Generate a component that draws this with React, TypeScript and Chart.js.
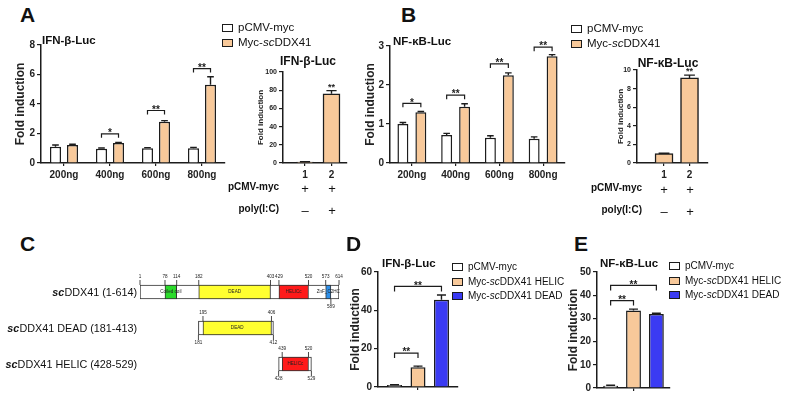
import React, { useEffect, useRef } from 'react';
import { Chart, registerables } from 'chart.js';

Chart.register(...registerables);

const FONT = "'Liberation Sans', Arial, Helvetica, sans-serif";
const INK = '#1c1c1c';
const PEACH = '#F8C99A';
const BLUE = '#3B3BF3';

// ---------- Panel A : IFN-β-Luc, dose response ----------
const doseLabels = ['200ng', '400ng', '600ng', '800ng'];
const pairNames = ['pCMV-myc', 'Myc-scDDX41'];
const ifnCtrl = [1.1, 0.97, 1.0, 1.0];
const ifnCtrlErr = [0.12, 0.05, 0.04, 0.06];
const ifnDdx = [1.22, 1.35, 2.8, 5.3];
const ifnDdxErr = [0.05, 0.04, 0.07, 0.55];
const ifnSigText = ['', '*', '**', '**'];
const ifnSigLevel = [0, 1.98, 3.56, 6.4];

// Panel A inset : poly(I:C)
const polyLabels = ['1', '2'];
const ifnPoly = [1, 76];
const ifnPolyErr = [0.4, 3.5];
const ifnPolySigText = ['', '**'];
const ifnPolySigLevel = [0, 82];

// ---------- Panel B : NF-κB-Luc, dose response ----------
const nfCtrl = [1.0, 0.72, 0.65, 0.62];
const nfCtrlErr = [0.04, 0.04, 0.05, 0.05];
const nfDdx = [1.3, 1.44, 2.25, 2.74];
const nfDdxErr = [0.02, 0.08, 0.06, 0.04];
const nfSigText = ['*', '**', '**', '**'];
const nfSigLevel = [1.53, 1.74, 2.54, 2.97];

// Panel B inset
const nfPoly = [1.0, 9.15];
const nfPolyErr = [0.05, 0.3];
const nfPolySigText = ['', '**'];
const nfPolySigLevel = [0, 9.75];

// table under the insets
const tableNames = ['pCMV-myc', 'poly(I:C)'];
const tableMarks = [['+', '+'], ['–', '+']];

// ---------- Panel C : domain map ----------
const constructNames = ['scDDX41 (1-614)', 'scDDX41 DEAD (181-413)', 'scDDX41 HELIC (428-529)'];
const constructSpans = [[1, 614], [181, 412], [428, 529]];
const coiledCoil = [[78, 114], null, null];
const deadDomain = [[182, 403], [195, 406], null];
const helicDomain = [[429, 520], null, [439, 520]];
const znfDomain = [[573, 589], null, null];
const domainNames = ['Coiled coil', 'DEAD', 'HELICc', 'ZnF_C2HC'];
const topMarks = [[1, 78, 114, 182, 403, 429, 520, 573, 614], [195, 406], [439, 520]];
const bottomMarks = [[589], [181, 412], [428, 529]];

// ---------- Panels D / E : truncation mutants ----------
const mutantNames = ['pCMV-myc', 'Myc-scDDX41 HELIC', 'Myc-scDDX41 DEAD'];
const ifnMut = [1.0, 10.3, 45.5];
const ifnMutErr = [0.2, 0.6, 2.5];
const ifnMutSigPairs = [[0, 1], [0, 2]];
const ifnMutSigLevel = [17.7, 52.5];
const nfMut = [1.0, 33.4, 31.9];
const nfMutErr = [0.2, 0.6, 0.3];
const nfMutSigPairs = [[0, 1], [0, 2]];
const nfMutSigLevel = [37.7, 44.2];

type Rect = { l: number; t: number; w: number; h: number };
type Area = { l: number; t: number; r: number; b: number };

const valueOf = (d: any) => (d && typeof d === 'object' ? d.y : d);

const errorBarPlugin = {
  id: 'errorBars',
  afterDatasetsDraw(chart: any) {
    const ctx = chart.ctx;
    const ys = chart.scales.y;
    chart.data.datasets.forEach((ds: any, di: number) => {
      if (!ds.errors) return;
      const meta = chart.getDatasetMeta(di);
      meta.data.forEach((el: any, i: number) => {
        const v = valueOf(ds.data[i]);
        const e = ds.errors[i];
        if (v == null || !e) return;
        const top = ys.getPixelForValue(v + e);
        const half = el.width * 0.3;
        ctx.save();
        ctx.strokeStyle = INK;
        ctx.lineWidth = 1.4;
        ctx.beginPath();
        ctx.moveTo(el.x, el.y);
        ctx.lineTo(el.x, top);
        ctx.moveTo(el.x - half, top);
        ctx.lineTo(el.x + half, top);
        ctx.stroke();
        ctx.restore();
      });
    });
  },
};

const sigPlugin = {
  id: 'sig',
  afterDatasetsDraw(chart: any, _args: any, opts: any) {
    const items = (opts && opts.items) || [];
    const ctx = chart.ctx;
    const ys = chart.scales.y;
    const size = opts.size || 10;
    const leg = opts.leg || 4;
    items.forEach((it: any) => {
      const ea = chart.getDatasetMeta(it.a[0]).data[it.a[1]];
      const py = ys.getPixelForValue(it.y);
      let cx = ea.x;
      ctx.save();
      ctx.strokeStyle = INK;
      ctx.fillStyle = INK;
      ctx.lineWidth = 1.2;
      if (it.b) {
        const eb = chart.getDatasetMeta(it.b[0]).data[it.b[1]];
        ctx.beginPath();
        ctx.moveTo(ea.x, py + leg);
        ctx.lineTo(ea.x, py);
        ctx.lineTo(eb.x, py);
        ctx.lineTo(eb.x, py + leg);
        ctx.stroke();
        cx = (ea.x + eb.x) / 2;
      }
      ctx.font = `bold ${size}px ${FONT}`;
      ctx.textAlign = 'center';
      ctx.textBaseline = 'alphabetic';
      ctx.fillText(it.text, cx, py + size * 0.42 - 2);
      ctx.restore();
    });
  },
};

function axisCommon(tickSize: number, tickLen: number) {
  return {
    grid: {
      display: true,
      drawOnChartArea: false,
      drawTicks: true,
      tickLength: tickLen,
      color: INK,
      lineWidth: 1.2,
      offset: false,
    },
    border: { display: true, color: INK, width: 1.5 },
    ticks: { font: { family: FONT, size: tickSize, weight: 'bold' }, color: '#222' },
  };
}

function barChart(opts: {
  rect: Rect;
  area: Area;
  labels: string[];
  datasets: any[];
  yMax: number;
  yStep: number;
  yTick: number;
  xTick: number;
  yTitle: number;
  yTitlePad: number;
  sig: any;
  xRange?: [number, number];
}) {
  const { rect, area } = opts;
  const xc = axisCommon(opts.xTick, 3);
  const yc = axisCommon(opts.yTick, 4);
  const fitX = (s: any) => {
    s.height = rect.t + rect.h - area.b;
  };
  const xScale = opts.xRange
    ? {
        type: 'linear',
        min: opts.xRange[0],
        max: opts.xRange[1],
        offset: false,
        ...xc,
        ticks: { ...xc.ticks, padding: 3, callback: (v: any) => String(v) },
        afterBuildTicks: (s: any) => {
          s.ticks = opts.labels.map((l) => ({ value: Number(l) }));
        },
        afterFit: fitX,
      }
    : {
        type: 'category',
        offset: true,
        ...xc,
        ticks: { ...xc.ticks, padding: 3 },
        afterFit: fitX,
      };
  return {
    type: 'bar',
    data: opts.xRange ? { datasets: opts.datasets } : { labels: opts.labels, datasets: opts.datasets },
    options: {
      responsive: false,
      maintainAspectRatio: false,
      animation: false,
      events: [],
      layout: { padding: { left: 0, top: area.t - rect.t, right: rect.l + rect.w - area.r, bottom: 0 } },
      plugins: { legend: { display: false }, tooltip: { enabled: false }, title: { display: false }, sig: opts.sig },
      scales: {
        x: xScale,
        y: {
          min: 0,
          max: opts.yMax,
          ...yc,
          ticks: { ...yc.ticks, stepSize: opts.yStep, padding: 2 },
          title: {
            display: true,
            text: 'Fold induction',
            color: '#222',
            font: { family: FONT, size: opts.yTitle, weight: 'bold' },
            padding: { top: opts.yTitlePad, bottom: 0 },
          },
          afterFit: (s: any) => {
            s.width = area.l - rect.l;
          },
        },
      },
    },
    plugins: [errorBarPlugin, sigPlugin],
  };
}

function barSet(label: string, data: any[], errors: number[], color: string, cat: number, bar: number) {
  return {
    label,
    data,
    errors,
    backgroundColor: color,
    borderColor: INK,
    borderWidth: 1.5,
    categoryPercentage: cat,
    barPercentage: bar,
  };
}

function insetSet(values: number[], errors: number[], thickness: number) {
  return {
    label: 'poly(I:C)',
    data: polyLabels.map((l, i) => ({ x: Number(l), y: values[i] })),
    errors,
    backgroundColor: PEACH,
    borderColor: INK,
    borderWidth: 1.5,
    barThickness: thickness,
  };
}

function pairSig(texts: string[], levels: number[]) {
  const items: any[] = [];
  texts.forEach((t, i) => {
    if (t) items.push({ a: [0, i], b: [1, i], y: levels[i], text: t });
  });
  return items;
}
function singleSig(texts: string[], levels: number[]) {
  const items: any[] = [];
  texts.forEach((t, i) => {
    if (t) items.push({ a: [0, i], y: levels[i], text: t });
  });
  return items;
}
function mutSig(pairs: number[][], levels: number[]) {
  return pairs.map((p, i) => ({ a: [p[0], 0], b: [p[1], 0], y: levels[i], text: '**' }));
}

const domainPlugin = {
  id: 'domainMarks',
  afterDatasetsDraw(chart: any) {
    const ctx = chart.ctx;
    const xs = chart.scales.x;
    const ys = chart.scales.y;
    const half = 7;
    ctx.save();
    ctx.strokeStyle = INK;
    ctx.fillStyle = '#222';
    ctx.lineWidth = 0.8;
    ctx.font = `4.6px ${FONT}`;
    ctx.textAlign = 'center';
    chart.data.datasets.forEach((ds: any) => {
      if (!ds.domainName) return;
      ds.data.forEach((span: any, r: number) => {
        if (!span) return;
        const cx = xs.getPixelForValue((span[0] + span[1]) / 2);
        const cy = ys.getPixelForValue(r);
        ctx.textBaseline = 'middle';
        ctx.fillText(ds.domainName, cx, cy);
      });
    });
    topMarks.forEach((marks, r) => {
      const cy = ys.getPixelForValue(r);
      marks.forEach((p) => {
        const x = xs.getPixelForValue(p);
        ctx.beginPath();
        ctx.moveTo(x, cy - half);
        ctx.lineTo(x, cy - half - 5);
        ctx.stroke();
        ctx.textBaseline = 'bottom';
        ctx.fillText(String(p), x, cy - half - 5.5);
      });
    });
    bottomMarks.forEach((marks, r) => {
      const cy = ys.getPixelForValue(r);
      marks.forEach((p) => {
        const x = xs.getPixelForValue(p);
        ctx.beginPath();
        ctx.moveTo(x, cy + half);
        ctx.lineTo(x, cy + half + 5);
        ctx.stroke();
        ctx.textBaseline = 'top';
        ctx.fillText(String(p), x, cy + half + 5.5);
      });
    });
    ctx.restore();
  },
};

function domainChart(rect: Rect, area: Area) {
  const box = (label: string, data: any[], color: string, order: number, name?: string) => ({
    label,
    data,
    backgroundColor: color,
    borderColor: '#333',
    borderWidth: 1,
    borderSkipped: false,
    barThickness: 14,
    grouped: false,
    order,
    domainName: name,
  });
  return {
    type: 'bar',
    data: {
      labels: constructNames,
      datasets: [
        box('construct', constructSpans, '#ffffff', 5),
        box(domainNames[0], coiledCoil, '#2BDB2B', 1, domainNames[0]),
        box(domainNames[1], deadDomain, '#FFFF30', 1, domainNames[1]),
        box(domainNames[2], helicDomain, '#FF1A1A', 1, domainNames[2]),
        box(domainNames[3], znfDomain, '#2E90EA', 0, domainNames[3]),
      ],
    },
    options: {
      indexAxis: 'y',
      responsive: false,
      maintainAspectRatio: false,
      animation: false,
      events: [],
      layout: {
        padding: { left: area.l - rect.l, top: area.t - rect.t, right: rect.l + rect.w - area.r, bottom: rect.t + rect.h - area.b },
      },
      plugins: { legend: { display: false }, tooltip: { enabled: false } },
      scales: {
        x: { type: 'linear', min: 1, max: 614, display: false },
        y: { type: 'category', display: false },
      },
    },
    plugins: [domainPlugin],
  } as any;
}

function ChartCanvas({ rect, make }: { rect: Rect; make: () => any }) {
  const ref = useRef<HTMLCanvasElement>(null);
  useEffect(() => {
    const chart = new Chart(ref.current as HTMLCanvasElement, make());
    return () => chart.destroy();
  }, []);
  return (
    <canvas
      ref={ref}
      width={rect.w}
      height={rect.h}
      style={{ position: 'absolute', left: rect.l, top: rect.t, width: rect.w, height: rect.h }}
    />
  );
}

function Txt(props: { x: number; y: number; size?: number; weight?: any; align?: string; children: any; style?: any }) {
  const { x, y, size = 12, weight = 'normal', align = 'left', children, style } = props;
  const tx = align === 'right' ? '-100%' : align === 'center' ? '-50%' : '0';
  return (
    <div
      style={{
        position: 'absolute',
        left: x,
        top: y,
        transform: `translate(${tx}, -50%)`,
        fontSize: size,
        fontWeight: weight,
        lineHeight: 1,
        whiteSpace: 'nowrap',
        ...style,
      }}
    >
      {children}
    </div>
  );
}

function ScText({ text, boldSc }: { text: string; boldSc?: boolean }) {
  const parts = text.split(/(sc)/);
  return (
    <>
      {parts.map((p, i) =>
        p === 'sc' ? (
          <span key={i} style={{ fontStyle: 'italic', fontWeight: boldSc ? 'bold' : undefined }}>
            sc
          </span>
        ) : (
          <span key={i}>{p}</span>
        ),
      )}
    </>
  );
}

function Legend({ x, y, gap, size, names, colors }: { x: number; y: number; gap: number; size: number; names: string[]; colors: string[] }) {
  return (
    <>
      {names.map((n, i) => (
        <React.Fragment key={n}>
          <div
            style={{
              position: 'absolute',
              left: x,
              top: y + i * gap - 4,
              width: 9,
              height: 6,
              background: colors[i],
              border: `1.3px solid ${INK}`,
            }}
          />
          <Txt x={x + 16} y={y + i * gap} size={size}>
            <ScText text={n} />
          </Txt>
        </React.Fragment>
      ))}
    </>
  );
}

function Table({ right, xs, y0, gap }: { right: number; xs: number[]; y0: number; gap: number }) {
  return (
    <>
      {tableNames.map((n, r) => (
        <React.Fragment key={n}>
          <Txt x={right} y={y0 + r * gap} size={10} weight="bold" align="right">
            {n}
          </Txt>
          {tableMarks[r].map((m, c) => (
            <Txt key={c} x={xs[c]} y={y0 + r * gap + 1} size={13} align="center">
              {m}
            </Txt>
          ))}
        </React.Fragment>
      ))}
    </>
  );
}

// ---------- layout ----------
const aMainRect: Rect = { l: 0, t: 33, w: 232, h: 160 };
const aMainArea: Area = { l: 41, t: 45, r: 225, b: 163 };
const aInRect: Rect = { l: 250, t: 60, w: 105, h: 125 };
const aInArea: Area = { l: 283, t: 72, r: 347, b: 163 };
const bMainRect: Rect = { l: 345, t: 34, w: 225, h: 160 };
const bMainArea: Area = { l: 390, t: 46, r: 565, b: 163 };
const bInRect: Rect = { l: 605, t: 58, w: 110, h: 127 };
const bInArea: Area = { l: 637, t: 70, r: 708, b: 163 };
const cRect: Rect = { l: 130, t: 262, w: 220, h: 130 };
const cArea: Area = { l: 140, t: 274, r: 339, b: 382 };
const dRect: Rect = { l: 335, t: 258, w: 130, h: 139 };
const dArea: Area = { l: 378, t: 272, r: 458, b: 387 };
const eRect: Rect = { l: 553, t: 258, w: 122, h: 139 };
const eArea: Area = { l: 597, t: 272, r: 670, b: 388 };

export default function App() {
  return (
    <div
      style={{
        position: 'absolute',
        left: 0,
        top: 0,
        width: 789,
        height: 397,
        background: '#fff',
        fontFamily: FONT,
        color: '#111',
        overflow: 'hidden',
      }}
    >
      <ChartCanvas
        rect={aMainRect}
        make={() =>
          barChart({
            rect: aMainRect,
            area: aMainArea,
            labels: doseLabels,
            datasets: [
              barSet(pairNames[0], ifnCtrl, ifnCtrlErr, '#fff', 0.74, 0.65),
              barSet(pairNames[1], ifnDdx, ifnDdxErr, PEACH, 0.74, 0.65),
            ],
            yMax: 8,
            yStep: 2,
            yTick: 10,
            xTick: 10,
            yTitle: 12,
            yTitlePad: 13,
            sig: { items: pairSig(ifnSigText, ifnSigLevel), size: 10, leg: 4 },
          })
        }
      />
      <ChartCanvas
        rect={aInRect}
        make={() =>
          barChart({
            rect: aInRect,
            area: aInArea,
            labels: polyLabels,
            datasets: [insetSet(ifnPoly, ifnPolyErr, 17)],
            yMax: 100,
            yStep: 20,
            yTick: 7,
            xTick: 10,
            yTitle: 8,
            yTitlePad: 6,
            sig: { items: singleSig(ifnPolySigText, ifnPolySigLevel), size: 9 },
            xRange: [0.17, 2.585],
          })
        }
      />
      <ChartCanvas
        rect={bMainRect}
        make={() =>
          barChart({
            rect: bMainRect,
            area: bMainArea,
            labels: doseLabels,
            datasets: [
              barSet(pairNames[0], nfCtrl, nfCtrlErr, '#fff', 0.82, 0.61),
              barSet(pairNames[1], nfDdx, nfDdxErr, PEACH, 0.82, 0.61),
            ],
            yMax: 3,
            yStep: 1,
            yTick: 10,
            xTick: 10,
            yTitle: 12,
            yTitlePad: 18,
            sig: { items: pairSig(nfSigText, nfSigLevel), size: 10, leg: 4 },
          })
        }
      />
      <ChartCanvas
        rect={bInRect}
        make={() =>
          barChart({
            rect: bInRect,
            area: bInArea,
            labels: polyLabels,
            datasets: [insetSet(nfPoly, nfPolyErr, 18)],
            yMax: 10,
            yStep: 2,
            yTick: 7,
            xTick: 10,
            yTitle: 8,
            yTitlePad: 11,
            sig: { items: singleSig(nfPolySigText, nfPolySigLevel), size: 9 },
            xRange: [-0.06, 2.725],
          })
        }
      />
      <ChartCanvas rect={cRect} make={() => domainChart(cRect, cArea)} />
      <ChartCanvas
        rect={dRect}
        make={() =>
          barChart({
            rect: dRect,
            area: dArea,
            labels: [''],
            datasets: [
              barSet(mutantNames[0], [ifnMut[0]], [ifnMutErr[0]], '#fff', 0.88, 0.64),
              barSet(mutantNames[1], [ifnMut[1]], [ifnMutErr[1]], PEACH, 0.88, 0.64),
              barSet(mutantNames[2], [ifnMut[2]], [ifnMutErr[2]], BLUE, 0.88, 0.64),
            ],
            yMax: 60,
            yStep: 20,
            yTick: 10,
            xTick: 10,
            yTitle: 12,
            yTitlePad: 13,
            sig: { items: mutSig(ifnMutSigPairs, ifnMutSigLevel), size: 10, leg: 5 },
          })
        }
      />
      <ChartCanvas
        rect={eRect}
        make={() =>
          barChart({
            rect: eRect,
            area: eArea,
            labels: [''],
            datasets: [
              barSet(mutantNames[0], [nfMut[0]], [nfMutErr[0]], '#fff', 0.94, 0.65),
              barSet(mutantNames[1], [nfMut[1]], [nfMutErr[1]], PEACH, 0.94, 0.65),
              barSet(mutantNames[2], [nfMut[2]], [nfMutErr[2]], BLUE, 0.94, 0.65),
            ],
            yMax: 50,
            yStep: 10,
            yTick: 10,
            xTick: 10,
            yTitle: 12,
            yTitlePad: 13,
            sig: { items: mutSig(nfMutSigPairs, nfMutSigLevel), size: 10, leg: 5 },
          })
        }
      />

      {/* panel letters */}
      <Txt x={20} y={14} size={21} weight="bold">A</Txt>
      <Txt x={401} y={14} size={21} weight="bold">B</Txt>
      <Txt x={20} y={243} size={21} weight="bold">C</Txt>
      <Txt x={346} y={243} size={21} weight="bold">D</Txt>
      <Txt x={574} y={243} size={21} weight="bold">E</Txt>

      {/* chart titles */}
      <Txt x={42} y={41} size={11.5} weight="bold">IFN-β-Luc</Txt>
      <Txt x={308} y={61} size={12} weight="bold" align="center">IFN-β-Luc</Txt>
      <Txt x={393} y={42} size={11.5} weight="bold">NF-κB-Luc</Txt>
      <Txt x={668} y={63} size={12} weight="bold" align="center">NF-κB-Luc</Txt>
      <Txt x={382} y={264} size={11.5} weight="bold">IFN-β-Luc</Txt>
      <Txt x={600} y={264} size={11.5} weight="bold">NF-κB-Luc</Txt>

      {/* legends */}
      <Legend x={222} y={28} gap={15} size={11.5} names={pairNames} colors={['#fff', PEACH]} />
      <Legend x={571} y={29} gap={15} size={11.5} names={pairNames} colors={['#fff', PEACH]} />
      <Legend x={452} y={267} gap={14.5} size={10} names={mutantNames} colors={['#fff', PEACH, BLUE]} />
      <Legend x={669} y={266} gap={14.5} size={10} names={mutantNames} colors={['#fff', PEACH, BLUE]} />

      {/* tables */}
      <Table right={279} xs={[305, 332]} y0={187} gap={22} />
      <Table right={642} xs={[664, 690]} y0={188} gap={22} />

      {/* construct names */}
      {constructNames.map((n, i) => (
        <Txt key={n} x={137} y={292 + i * 36} size={10.8} align="right">
          <ScText text={n} boldSc />
        </Txt>
      ))}
    </div>
  );
}
